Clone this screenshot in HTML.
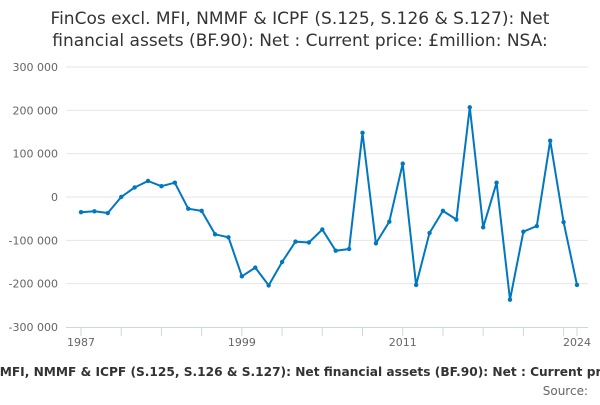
<!DOCTYPE html>
<html><head><meta charset="utf-8">
<style>
html,body{margin:0;padding:0;background:#fff;}
body{width:600px;height:400px;overflow:hidden;font-family:"Liberation Sans","DejaVu Sans",sans-serif;}
</style></head>
<body>
<svg id="chart" width="600" height="400" xmlns="http://www.w3.org/2000/svg">
<text x="300" y="24" text-anchor="middle" font-size="17" fill="#333" font-family="DejaVu Sans, sans-serif">FinCos excl. MFI, NMMF &amp; ICPF (S.125, S.126 &amp; S.127): Net</text>
<text x="300" y="46" text-anchor="middle" font-size="17" fill="#333" font-family="DejaVu Sans, sans-serif">financial assets (BF.90): Net : Current price: £million: NSA:</text>
<g id="grid"></g>
<g id="yticks"></g>
<g id="xaxis"></g>
<g id="series"></g>
<text x="318" y="376" text-anchor="middle" font-size="12.2" font-weight="bold" fill="#333" font-family="DejaVu Sans, sans-serif">FinCos excl. MFI, NMMF &amp; ICPF (S.125, S.126 &amp; S.127): Net financial assets (BF.90): Net : Current price: £million: NSA</text>
<text x="588" y="395" text-anchor="end" font-size="12" fill="#666" font-family="DejaVu Sans, sans-serif">Source:</text>
</svg>
<script>
const years = [1987,1988,1989,1990,1991,1992,1993,1994,1995,1996,1997,1998,1999,2000,2001,2002,2003,2004,2005,2006,2007,2008,2009,2010,2011,2012,2013,2014,2015,2016,2017,2018,2019,2020,2021,2022,2023,2024];
const values = [-35000,-33000,-37000,0,22000,37000,25000,33000,-27000,-32000,-86000,-93000,-183000,-163000,-204000,-150000,-103000,-105000,-75000,-124000,-120000,148000,-107000,-57000,77000,-203000,-83000,-32000,-52000,207000,-70000,33000,-237000,-80000,-67000,130000,-58000,-203000];
const yTickValues = [-300000,-200000,-100000,0,100000,200000,300000];
const yTickLabels = ["-300 000","-200 000","-100 000","0","100 000","200 000","300 000"];
const xLabelYears = [1987,1999,2011,2024];

const NS="http://www.w3.org/2000/svg";
const x0=81,x1=577,yTop=67,yBot=327,left=66,right=588;
function xs(yr){return x0+(yr-1987)/(2024-1987)*(x1-x0);}
function ys(v){return yBot-(v+300000)/600000*(yBot-yTop);}
function mk(tag,attrs,parent){const e=document.createElementNS(NS,tag);for(const k in attrs)e.setAttribute(k,attrs[k]);parent.appendChild(e);return e;}
const grid=document.getElementById('grid'),yt=document.getElementById('yticks'),xa=document.getElementById('xaxis'),sr=document.getElementById('series');
yTickValues.forEach((v,i)=>{
  if(v!==-300000){const l=mk('line',{x1:left,x2:right,y1:ys(v),y2:ys(v),stroke:'#e6e6e6','stroke-width':1},grid);
  
  }
  const t=mk('text',{x:58,y:ys(v)+4,'text-anchor':'end','font-size':11,fill:'#666','font-family':'DejaVu Sans, sans-serif'},yt);
  t.textContent=yTickLabels[i];
  
  
});
const ax=mk('line',{x1:left,x2:right,y1:yBot+0.5,y2:yBot+0.5,stroke:'#ccd6eb','stroke-width':1},xa);


const tickYears=[];for(let y=1987;y<2024;y+=3)tickYears.push(y);tickYears.push(2024);
tickYears.forEach(yr=>{const l=mk('line',{x1:xs(yr),x2:xs(yr),y1:yBot,y2:yBot+9,stroke:'#ccd6eb','stroke-width':1},xa);
  
  });
xLabelYears.forEach(yr=>{const t=mk('text',{x:xs(yr),y:yBot+19,'text-anchor':'middle','font-size':11,fill:'#666','font-family':'DejaVu Sans, sans-serif'},xa);
  t.textContent=yr;
  
  });
const pts=years.map((yr,i)=>xs(yr).toFixed(1)+','+ys(values[i]).toFixed(1)).join(' ');
const pl=mk('polyline',{points:pts,fill:'none',stroke:'#0077c0','stroke-width':2,'stroke-linejoin':'round'},sr);


years.forEach((yr,i)=>{const c=mk('circle',{cx:xs(yr),cy:ys(values[i]),r:2.2,fill:'#0077c0'},sr);
  
  });
</script>
</body></html>
